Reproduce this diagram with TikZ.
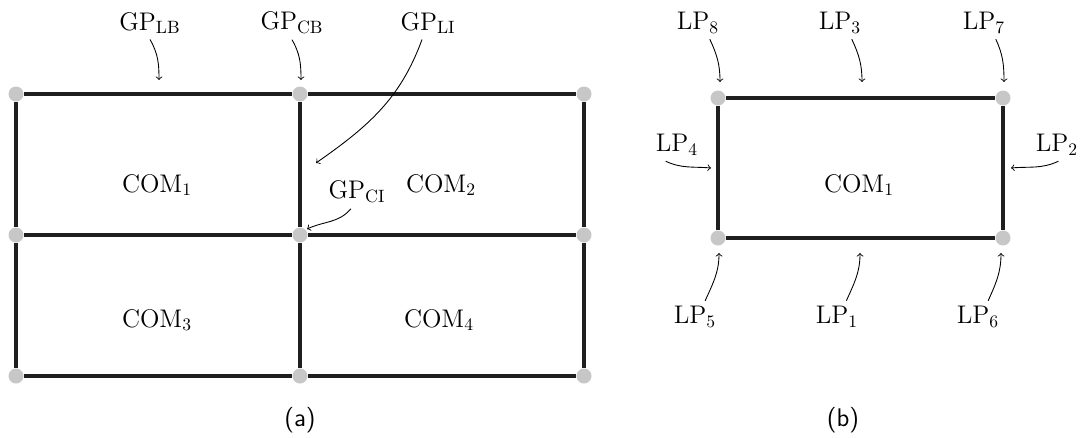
\documentclass[tikz,border=0pt]{standalone}
\usepackage{fontspec}
\tikzset{
  edge/.style={line width=2.8pt,draw=black!88},
  dot/.style={circle,fill=black!22,inner sep=0pt,minimum size=0.3cm},
  tag/.style={inner sep=3pt},
  pointer/.style={->,>=to,line width=0.5pt}
}
\begin{document}
\begin{tikzpicture}[x=0.02cm,y=0.02cm,font=\fontsize{14.5}{17}\selectfont]
  \useasboundingbox (0,0) rectangle (1084,-437);
  \path
    (16,-94) node[dot] (a1){}
    (300,-94) node[dot] (a2){}
    (584,-94) node[dot] (a3){}
    (16,-235) node[dot] (a4){}
    (300,-235) node[dot] (a5){}
    (584,-235) node[dot] (a6){}
    (16,-376) node[dot] (a7){}
    (300,-376) node[dot] (a8){}
    (584,-376) node[dot] (a9){}
    (718,-98) node[dot] (b1){}
    (1003,-98) node[dot] (b2){}
    (718,-238) node[dot] (b3){}
    (1003,-238) node[dot] (b4){};
  \begin{scope}[edge]
    \draw (a1) to (a2);
    \draw (a2) to (a3);
    \draw (a4) to (a5);
    \draw (a5) to (a6);
    \draw (a7) to (a8);
    \draw (a8) to (a9);
    \draw (a1) to (a4);
    \draw (a4) to (a7);
    \draw (a2) to (a5);
    \draw (a5) to (a8);
    \draw (a3) to (a6);
    \draw (a6) to (a9);
    \draw (b1) to (b2);
    \draw (b3) to (b4);
    \draw (b1) to (b3);
    \draw (b2) to (b4);
  \end{scope}
  \path
    (157,-185) node (com1){COM$_1$}
    (441,-185) node (com2){COM$_2$}
    (157,-320) node (com3){COM$_3$}
    (439,-320) node (com4){COM$_4$}
    (859,-185) node (lcom1){COM$_1$}
    (300,-420) node (capa){\sffamily (a)}
    (843,-420) node (capb){\sffamily (b)};
  \path
    (150,-23) node[tag] (gplb){GP$_{\mathrm{LB}}$}
    (292,-23) node[tag] (gpcb){GP$_{\mathrm{CB}}$}
    (428,-23) node[tag] (gpli){GP$_{\mathrm{LI}}$}
    (357,-192) node[tag] (gpci){GP$_{\mathrm{CI}}$}
    (698,-23) node[tag] (lp8){LP$_8$}
    (840,-23) node[tag] (lp3){LP$_3$}
    (984,-23) node[tag] (lp7){LP$_7$}
    (677,-145) node[tag] (lp4){LP$_4$}
    (1057,-145) node[tag] (lp2){LP$_2$}
    (695,-317) node[tag] (lp5){LP$_5$}
    (837,-317) node[tag] (lp1){LP$_1$}
    (978,-317) node[tag] (lp6){LP$_6$};
  \coordinate (tlb) at (159,-80);
  \coordinate (tcb) at (301,-80);
  \coordinate (tli) at (316,-163);
  \coordinate (tci) at (307,-229);
  \coordinate (t8) at (720,-82);
  \coordinate (t3) at (862,-82);
  \coordinate (t7) at (1004,-82);
  \coordinate (t4) at (711,-168);
  \coordinate (t2) at (1011,-168);
  \coordinate (t5) at (719,-253);
  \coordinate (t1) at (860,-253);
  \coordinate (t6) at (1001,-253);
  \begin{scope}[pointer]
    \draw (gplb.south) to[out=-60,in=90] (tlb);
    \draw (gpcb.south) to[out=-60,in=90] (tcb);
    \draw (gpli.-110) to[out=-110,in=35] (tli);
    \draw (gpci.-110) to[out=-130,in=25] (tci);
    \draw (lp8.-54) to[out=-65,in=90] (t8);
    \draw (lp3.-54) to[out=-65,in=90] (t3);
    \draw (lp7.-54) to[out=-65,in=90] (t7);
    \draw (lp4.235) to[out=-25,in=175] (t4);
    \draw (lp2.-85) to[out=-155,in=5] (t2);
    \draw (lp5.58) to[out=66,in=-90] (t5);
    \draw (lp1.60) to[out=66,in=-90] (t1);
    \draw (lp6.58) to[out=66,in=-90] (t6);
  \end{scope}
\end{tikzpicture}
\end{document}
